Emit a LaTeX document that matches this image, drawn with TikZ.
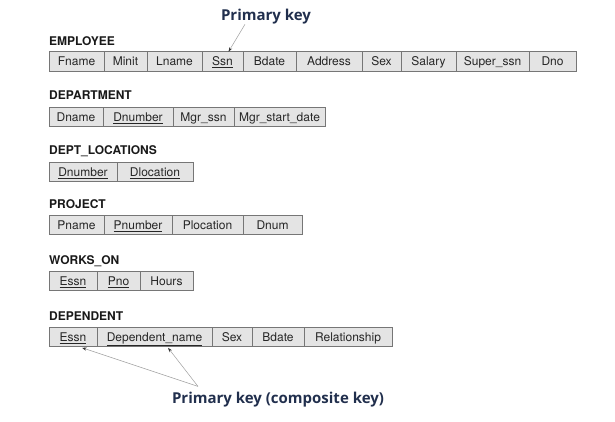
\documentclass[tikz,border=0pt]{standalone}
\usepackage{fontspec}
\setsansfont{TeX Gyre Heros}
\newfontfamily\destaquefont{Open Sans}
\usetikzlibrary{arrows.meta}

\definecolor{azulchave}{RGB}{33,47,77}
\definecolor{bordacel}{RGB}{118,118,118}
\definecolor{fundocel}{RGB}{228,228,228}

\newcommand{\chave}[1]{\underline{#1}}

\begin{document}
\begin{tikzpicture}[x=1pt, y=-1pt,
    celula/.style={draw=bordacel, fill=fundocel, line width=0.8pt, minimum height=19.5pt,
        inner sep=0pt, outer sep=0pt, anchor=west, text height=10pt, text depth=1pt,
        text=black!85, font=\sffamily\fontsize{12}{14}\selectfont},
    rotulo/.style={anchor=base west, inner sep=0pt, text=black!90,
        font=\sffamily\bfseries\fontsize{12}{14}\selectfont},
    destaque/.style={anchor=base, inner sep=0pt, text=azulchave,
        font=\destaquefont\bfseries\fontsize{15}{18}\selectfont},
    seta/.style={-{Stealth[length=4.5pt, width=3pt, color=black!80]}, draw=gray!75, line width=0.5pt}]

        \useasboundingbox (0,0) rectangle (615,422);

        % EMPLOYEE
        \node[rotulo] (lemployee) at (49,45.5) {EMPLOYEE};
        \node[celula, minimum width=55] (fname) at (49,61.5) {Fname};
        \node[celula, minimum width=43] (minit) at (104,61.5) {Minit};
        \node[celula, minimum width=55] (lname) at (147,61.5) {Lname};
        \node[celula, minimum width=41] (ssn) at (202,61.5) {\chave{Ssn}};
        \node[celula, minimum width=53] (bdate) at (243,61.5) {Bdate};
        \node[celula, minimum width=66] (address) at (296,61.5) {Address};
        \node[celula, minimum width=39] (sex) at (362,61.5) {Sex};
        \node[celula, minimum width=55] (salary) at (401,61.5) {Salary};
        \node[celula, minimum width=73] (superssn) at (456,61.5) {Super\_ssn};
        \node[celula, minimum width=47] (dno) at (529,61.5) {Dno};

        % DEPARTMENT
        \node[rotulo] (ldepartment) at (49,100) {DEPARTMENT};
        \node[celula, minimum width=54] (dname) at (49,117) {Dname};
        \node[celula, minimum width=70] (dnumber) at (103,117) {\chave{Dnumber}};
        \node[celula, minimum width=61] (mgrssn) at (173,117) {Mgr\_ssn};
        \node[celula, minimum width=91] (mgrdate) at (234,117) {Mgr\_start\_date};

        % DEPT_LOCATIONS
        \node[rotulo] (ldeptloc) at (49,154.5) {DEPT\_LOCATIONS};
        \node[celula, minimum width=68] (dlnumber) at (49,172) {\chave{Dnumber}};
        \node[celula, minimum width=76] (dlocation) at (117,172) {\chave{Dlocation}};

        % PROJECT
        \node[rotulo] (lproject) at (49,208) {PROJECT};
        \node[celula, minimum width=55] (pname) at (49,225) {Pname};
        \node[celula, minimum width=68] (pnumber) at (104,225) {\chave{Pnumber}};
        \node[celula, minimum width=71] (plocation) at (172,225) {Plocation};
        \node[celula, minimum width=59] (dnum) at (243,225) {Dnum};

        % WORKS_ON
        \node[rotulo] (lworkson) at (49,264.5) {WORKS\_ON};
        \node[celula, minimum width=48] (wessn) at (49,281) {\chave{Essn}};
        \node[celula, minimum width=43] (wpno) at (97,281) {\chave{Pno}};
        \node[celula, minimum width=53] (whours) at (140,281) {Hours};

        % DEPENDENT
        \node[rotulo] (ldependent) at (49,320.5) {DEPENDENT};
        \node[celula, minimum width=48] (dessn) at (49,337) {\chave{Essn}};
        \node[celula, minimum width=115] (depname) at (97,337) {\chave{Dependent\_name}};
        \node[celula, minimum width=40] (dsex) at (212,337) {Sex};
        \node[celula, minimum width=52] (dbdate) at (252,337) {Bdate};
        \node[celula, minimum width=88] (relationship) at (304,337) {Relationship};

        % chaves
        \node[destaque] (chave) at (266,20.5) {Primary key};
        \node[destaque] (composta) at (278,403) {Primary key (composite key)};

        \draw[seta] ([xshift=-21pt]chave.south) -- ([xshift=6pt]ssn.north);
        \coordinate (juncao) at ([xshift=-80pt, yshift=5pt]composta.north);
        \draw[seta] (juncao) -- ([xshift=9pt, yshift=-1pt]dessn.south);
        \draw[seta] (juncao) -- ([xshift=13.5pt, yshift=-1pt]depname.south);

    \end{tikzpicture}
\end{document}
